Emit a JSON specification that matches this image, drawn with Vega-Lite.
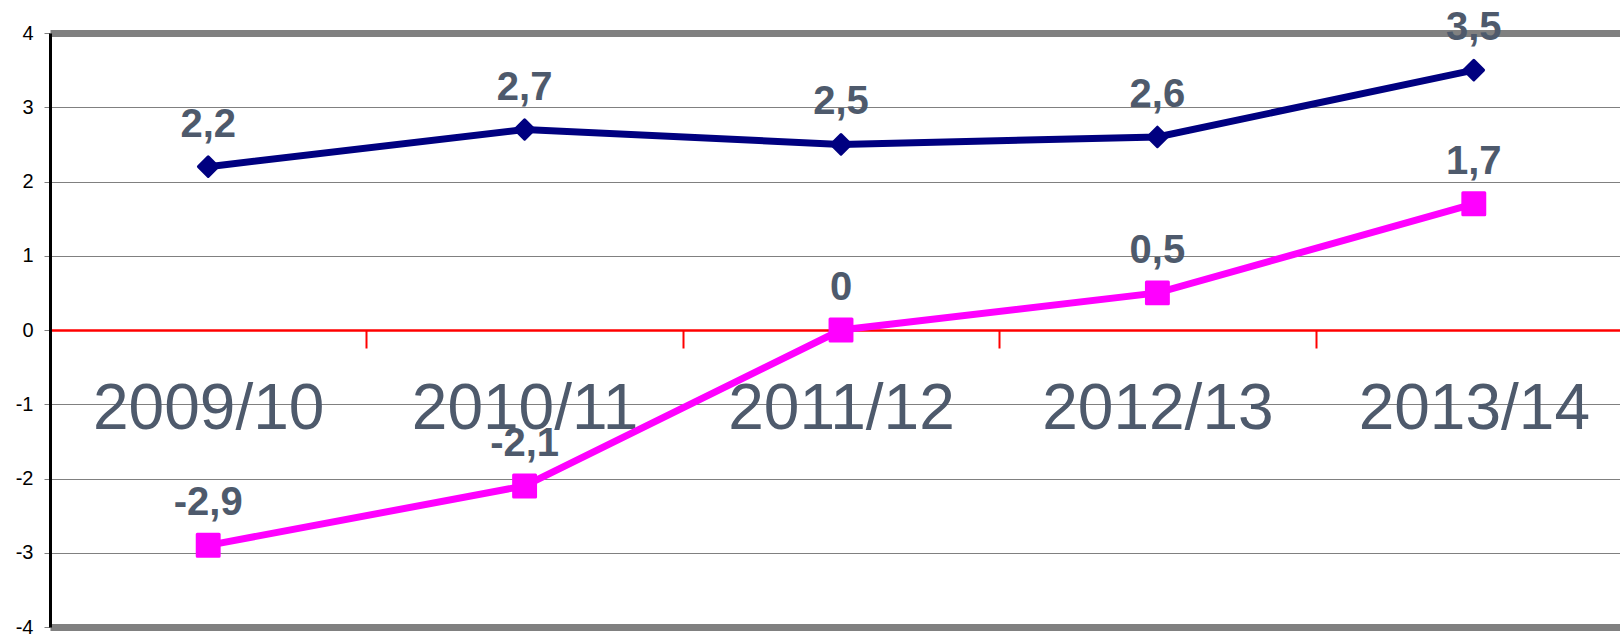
{
  "$schema": "https://vega.github.io/schema/vega-lite/v6.json",
  "autosize": "none",
  "width": 1570,
  "height": 594,
  "padding": {"left": 50, "top": 33, "right": 0, "bottom": 7},
  "background": "white",
  "config": {
    "view": {"stroke": null},
    "font": "Liberation Sans"
  },
  "data": {
    "values": [
      {"year": "2009/10", "series": "A", "value": 2.2, "label": "2,2"},
      {"year": "2010/11", "series": "A", "value": 2.7, "label": "2,7"},
      {"year": "2011/12", "series": "A", "value": 2.5, "label": "2,5"},
      {"year": "2012/13", "series": "A", "value": 2.6, "label": "2,6"},
      {"year": "2013/14", "series": "A", "value": 3.5, "label": "3,5"},
      {"year": "2009/10", "series": "B", "value": -2.9, "label": "-2,9"},
      {"year": "2010/11", "series": "B", "value": -2.1, "label": "-2,1"},
      {"year": "2011/12", "series": "B", "value": 0, "label": "0"},
      {"year": "2012/13", "series": "B", "value": 0.5, "label": "0,5"},
      {"year": "2013/14", "series": "B", "value": 1.7, "label": "1,7"}
    ]
  },
  "encoding": {
    "x": {
      "field": "year",
      "type": "ordinal",
      "sort": null,
      "scale": {"type": "band", "paddingInner": 0, "paddingOuter": 0, "range": [0, 1582]},
      "axis": {
        "title": null,
        "offset": -297,
        "tickBand": "extent",
        "domainColor": "#ff0000",
        "domainWidth": 2.5,
        "tickColor": "#ff0000",
        "tickWidth": 2,
        "tickSize": 18,
        "labelFont": "Liberation Sans",
        "labelFontSize": 64,
        "labelColor": "#4e5a6c",
        "labelBaseline": "alphabetic",
        "labelPadding": 80,
        "labelAngle": 0,
        "labelLimit": 0,
        "labelOverlap": false,
        "labelFlush": false,
        "grid": false
      }
    },
    "y": {
      "field": "value",
      "type": "quantitative",
      "scale": {"domain": [-4, 4], "nice": false, "zero": false},
      "axis": {
        "title": null,
        "values": [-4, -3, -2, -1, 0, 1, 2, 3, 4],
        "labelExpr": "datum.value < 0 ? '-' + abs(datum.value) : '' + datum.value",
        "labelFont": "Liberation Sans",
        "labelFontSize": 20,
        "labelColor": "#000000",
        "labelPadding": 11,
        "tickSize": 6,
        "tickColor": "#808080",
        "tickWidth": 1,
        "domainColor": "#000000",
        "domainWidth": 3,
        "grid": true,
        "gridColor": {"condition": {"test": "datum.value === 0", "value": "#ff0000"}, "value": "#808080"},
        "gridWidth": {"condition": {"test": "abs(datum.value) === 4", "value": 7}, "value": 1},
        "gridOpacity": 1
      }
    }
  },
  "layer": [
    {
      "mark": {"type": "line", "strokeWidth": 7},
      "encoding": {
        "color": {"field": "series", "type": "nominal", "scale": {"domain": ["A", "B"], "range": ["#000080", "#ff00ff"]}, "legend": null}
      }
    },
    {
      "mark": {"type": "point", "filled": true, "opacity": 1, "strokeWidth": 3, "strokeJoin": "round"},
      "encoding": {
        "color": {"field": "series", "type": "nominal", "scale": {"domain": ["A", "B"], "range": ["#000080", "#ff00ff"]}, "legend": null},
        "stroke": {"field": "series", "type": "nominal", "scale": {"domain": ["A", "B"], "range": ["#000080", "#ff00ff"]}, "legend": null},
        "shape": {"field": "series", "type": "nominal", "scale": {"domain": ["A", "B"], "range": ["diamond", "square"]}, "legend": null},
        "size": {"field": "series", "type": "nominal", "scale": {"domain": ["A", "B"], "range": [380, 480]}, "legend": null}
      }
    },
    {
      "mark": {"type": "text", "font": "Liberation Sans", "fontWeight": "bold", "fontSize": 40, "fill": "#4e5a6c", "baseline": "alphabetic", "align": "center", "dy": -30},
      "encoding": {
        "text": {"field": "label", "type": "nominal"}
      }
    }
  ]
}
